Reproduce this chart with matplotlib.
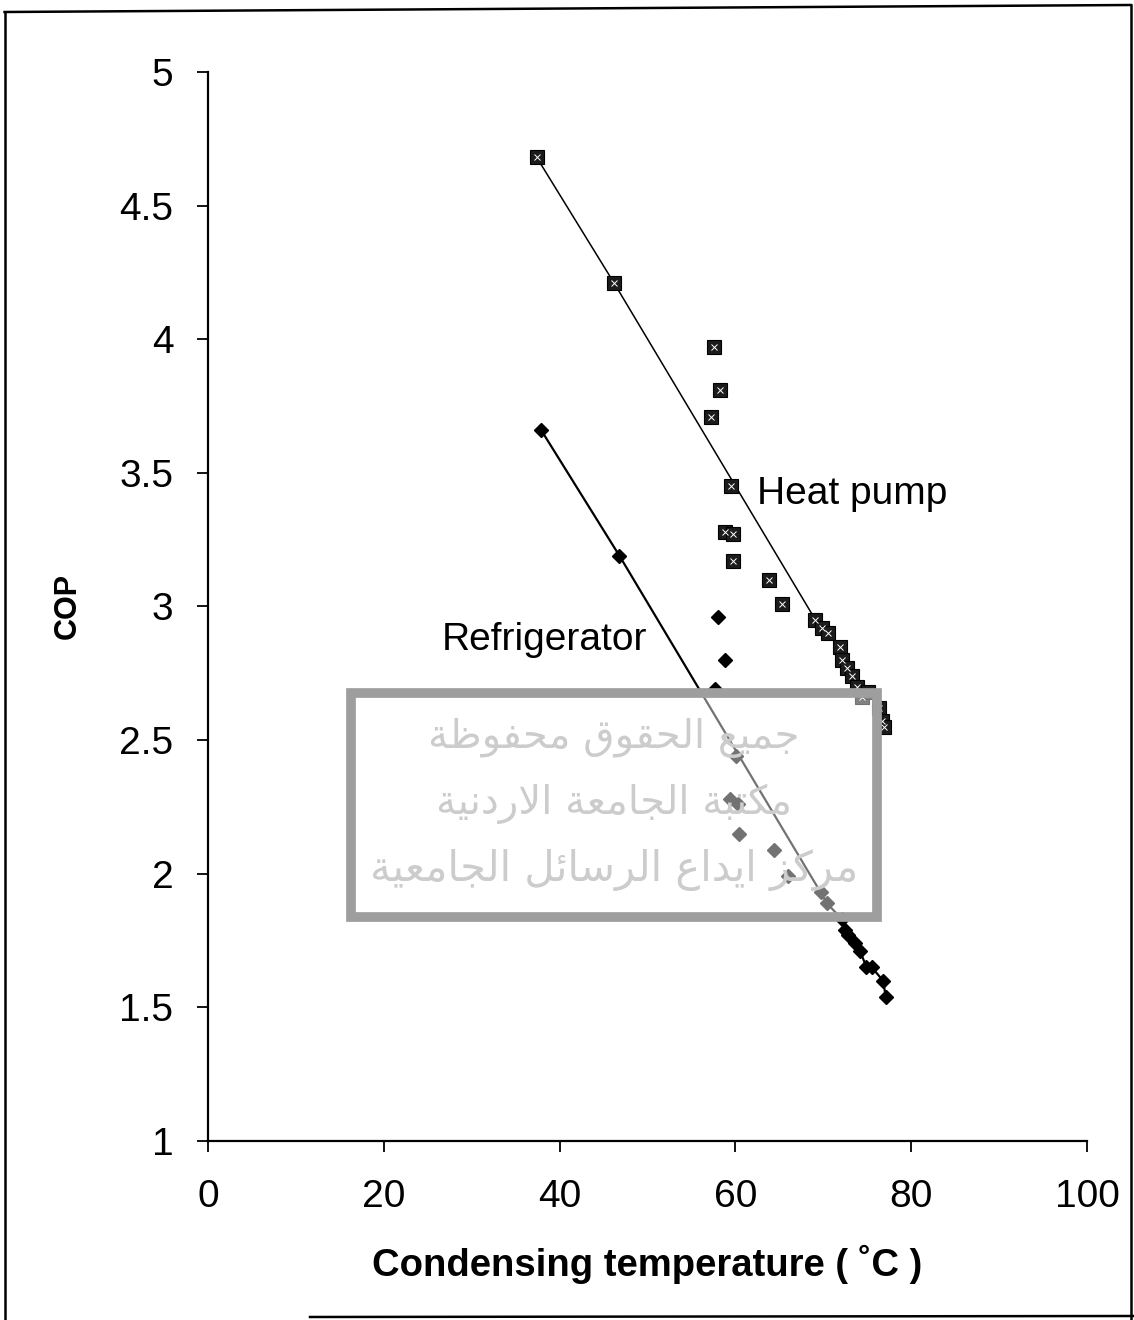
import matplotlib
matplotlib.use("Agg")
import matplotlib.pyplot as plt
from matplotlib.patches import Rectangle
from matplotlib.lines import Line2D

plt.rcParams['font.family'] = ['Liberation Sans', 'DejaVu Sans']

# heat pump: theoretical line (with markers) and measured points
hp_line_x = [37.4, 46.2, 69.1, 69.9, 70.5, 71.9, 72.1, 72.7, 73.3, 73.8, 74.4, 75.1, 76.3, 76.7, 76.9]
hp_line_y = [4.68, 4.21, 2.95, 2.92, 2.90, 2.85, 2.80, 2.77, 2.74, 2.70, 2.66, 2.68, 2.62, 2.57, 2.55]
hp_pts_x = [57.6, 58.2, 57.2, 59.5, 58.8, 59.7, 59.7, 63.8, 65.3]
hp_pts_y = [3.97, 3.81, 3.71, 3.45, 3.28, 3.27, 3.17, 3.10, 3.01]

# refrigerator
rf_line_x = [37.9, 46.8, 69.7, 70.4, 72.1, 72.5, 72.8, 73.6, 74.2, 74.9, 75.5, 76.8, 77.1]
rf_line_y = [3.66, 3.19, 1.93, 1.89, 1.83, 1.79, 1.77, 1.74, 1.71, 1.65, 1.65, 1.60, 1.54]
rf_pts_x = [58.0, 58.8, 57.7, 60.1, 59.4, 60.3, 60.4, 64.4, 66.0]
rf_pts_y = [2.96, 2.80, 2.69, 2.44, 2.28, 2.26, 2.15, 2.09, 1.99]

x_ticks = [0, 20, 40, 60, 80, 100]
y_ticks = [1, 1.5, 2, 2.5, 3, 3.5, 4, 4.5, 5]
y_labels = ['1', '1.5', '2', '2.5', '3', '3.5', '4', '4.5', '5']

watermark = ["جميع الحقوق محفوظة", "مكتبة الجامعة الاردنية", "مركز ايداع الرسائل الجامعية"]

# arabic presentation forms (isolated, final, initial, medial)
FORMS = {
    'ا': (0xFE8D, 0xFE8E, None, None),
    'ب': (0xFE8F, 0xFE90, 0xFE91, 0xFE92),
    'ة': (0xFE93, 0xFE94, None, None),
    'ت': (0xFE95, 0xFE96, 0xFE97, 0xFE98),
    'ج': (0xFE9D, 0xFE9E, 0xFE9F, 0xFEA0),
    'ح': (0xFEA1, 0xFEA2, 0xFEA3, 0xFEA4),
    'د': (0xFEA9, 0xFEAA, None, None),
    'ر': (0xFEAD, 0xFEAE, None, None),
    'ز': (0xFEAF, 0xFEB0, None, None),
    'س': (0xFEB1, 0xFEB2, 0xFEB3, 0xFEB4),
    'ظ': (0xFEC5, 0xFEC6, 0xFEC7, 0xFEC8),
    'ع': (0xFEC9, 0xFECA, 0xFECB, 0xFECC),
    'ف': (0xFED1, 0xFED2, 0xFED3, 0xFED4),
    'ق': (0xFED5, 0xFED6, 0xFED7, 0xFED8),
    'ك': (0xFED9, 0xFEDA, 0xFEDB, 0xFEDC),
    'ل': (0xFEDD, 0xFEDE, 0xFEDF, 0xFEE0),
    'م': (0xFEE1, 0xFEE2, 0xFEE3, 0xFEE4),
    'ن': (0xFEE5, 0xFEE6, 0xFEE7, 0xFEE8),
    'و': (0xFEED, 0xFEEE, None, None),
    'ي': (0xFEF1, 0xFEF2, 0xFEF3, 0xFEF4),
    'ئ': (0xFE89, 0xFE8A, 0xFE8B, 0xFE8C),
}


def shape(s):
    out = []
    i = 0
    n = len(s)
    while i < n:
        c = s[i]
        if c not in FORMS:
            out.append(c)
            i += 1
            continue
        prev = s[i - 1] if i > 0 else ' '
        joins_prev = prev in FORMS and FORMS[prev][2] is not None
        if c == 'ل' and i + 1 < n and s[i + 1] == 'ا':
            out.append(chr(0xFEFC if joins_prev else 0xFEFB))
            i += 2
            continue
        nxt = s[i + 1] if i + 1 < n else ' '
        joins_next = FORMS[c][2] is not None and nxt in FORMS
        f = FORMS[c]
        if joins_prev and joins_next:
            out.append(chr(f[3]))
        elif joins_prev:
            out.append(chr(f[1]))
        elif joins_next:
            out.append(chr(f[2]))
        else:
            out.append(chr(f[0]))
        i += 1
    return ''.join(reversed(out))


fig = plt.figure(figsize=(11.34, 13.2), dpi=100)
ax = fig.add_axes([0.1834, 0.1356, 0.7752, 0.8099])

ax.plot(hp_line_x, hp_line_y, color='black', lw=1.1, zorder=2)
ax.plot(rf_line_x, rf_line_y, color='black', lw=1.6, zorder=2)

sq_x = hp_line_x + hp_pts_x
sq_y = hp_line_y + hp_pts_y
ax.plot(sq_x, sq_y, ls='none', marker='s', ms=10.5, mfc='#1c1c1c', mec='black', mew=0.8, zorder=3)
ax.plot(sq_x, sq_y, ls='none', marker='x', ms=4.5, mec='white', mew=0.7, zorder=4)

ax.plot(rf_line_x + rf_pts_x, rf_line_y + rf_pts_y, ls='none', marker='D', ms=7.5,
        mfc='black', mec='black', zorder=3)

ax.set_xlim(0, 100)
ax.set_ylim(1, 5)
ax.set_xticks(x_ticks)
ax.set_yticks(y_ticks)
ax.set_yticklabels(y_labels)
ax.spines['top'].set_visible(False)
ax.spines['right'].set_visible(False)
ax.spines['left'].set_linewidth(1.6)
ax.spines['bottom'].set_linewidth(1.6)
ax.tick_params(axis='both', direction='out', width=1.3, length=8, labelsize=28)
ax.tick_params(axis='x', pad=19)
ax.tick_params(axis='y', pad=17)

ax.set_xlabel('Condensing temperature ( ˚C )', fontsize=27.5, fontweight='bold', labelpad=22)
ax.set_ylabel('COP', fontsize=22, fontweight='bold', labelpad=26)

ax.text(62.5, 3.42, 'Heat pump', fontsize=28, va='center', ha='left')
ax.text(26.6, 2.875, 'Refrigerator', fontsize=28, va='center', ha='left')

# scanned watermark stamp
box = Rectangle((351 / 1134, 1 - 917 / 1320), 526 / 1134, 224 / 1320,
                transform=fig.transFigure, facecolor=(1, 1, 1, 0.45),
                edgecolor=(0.62, 0.62, 0.62, 1), lw=7, zorder=5)
fig.patches.append(box)
wm_sizes = [29, 29, 30]
for k, line in enumerate(watermark):
    fig.text(614 / 1134, 1 - (738 + 66 * k) / 1320, shape(line), fontsize=wm_sizes[k],
             family='DejaVu Sans', color='#cccccc', ha='center', va='center', zorder=6)

# scan frame
frame = dict(color='black', lw=1.8, transform=fig.transFigure)
fig.lines.append(Line2D([0.004, 0.997], [1 - 12 / 1320, 1 - 5 / 1320], **frame))
fig.lines.append(Line2D([0.004, 0.004], [0, 1 - 12 / 1320], **frame))
fig.lines.append(Line2D([0.997, 0.997], [0, 1 - 5 / 1320], **frame))
fig.lines.append(Line2D([310 / 1134, 1.0], [1 - 1317 / 1320, 1 - 1316 / 1320], **frame))

plt.savefig('out.png', dpi=100)
